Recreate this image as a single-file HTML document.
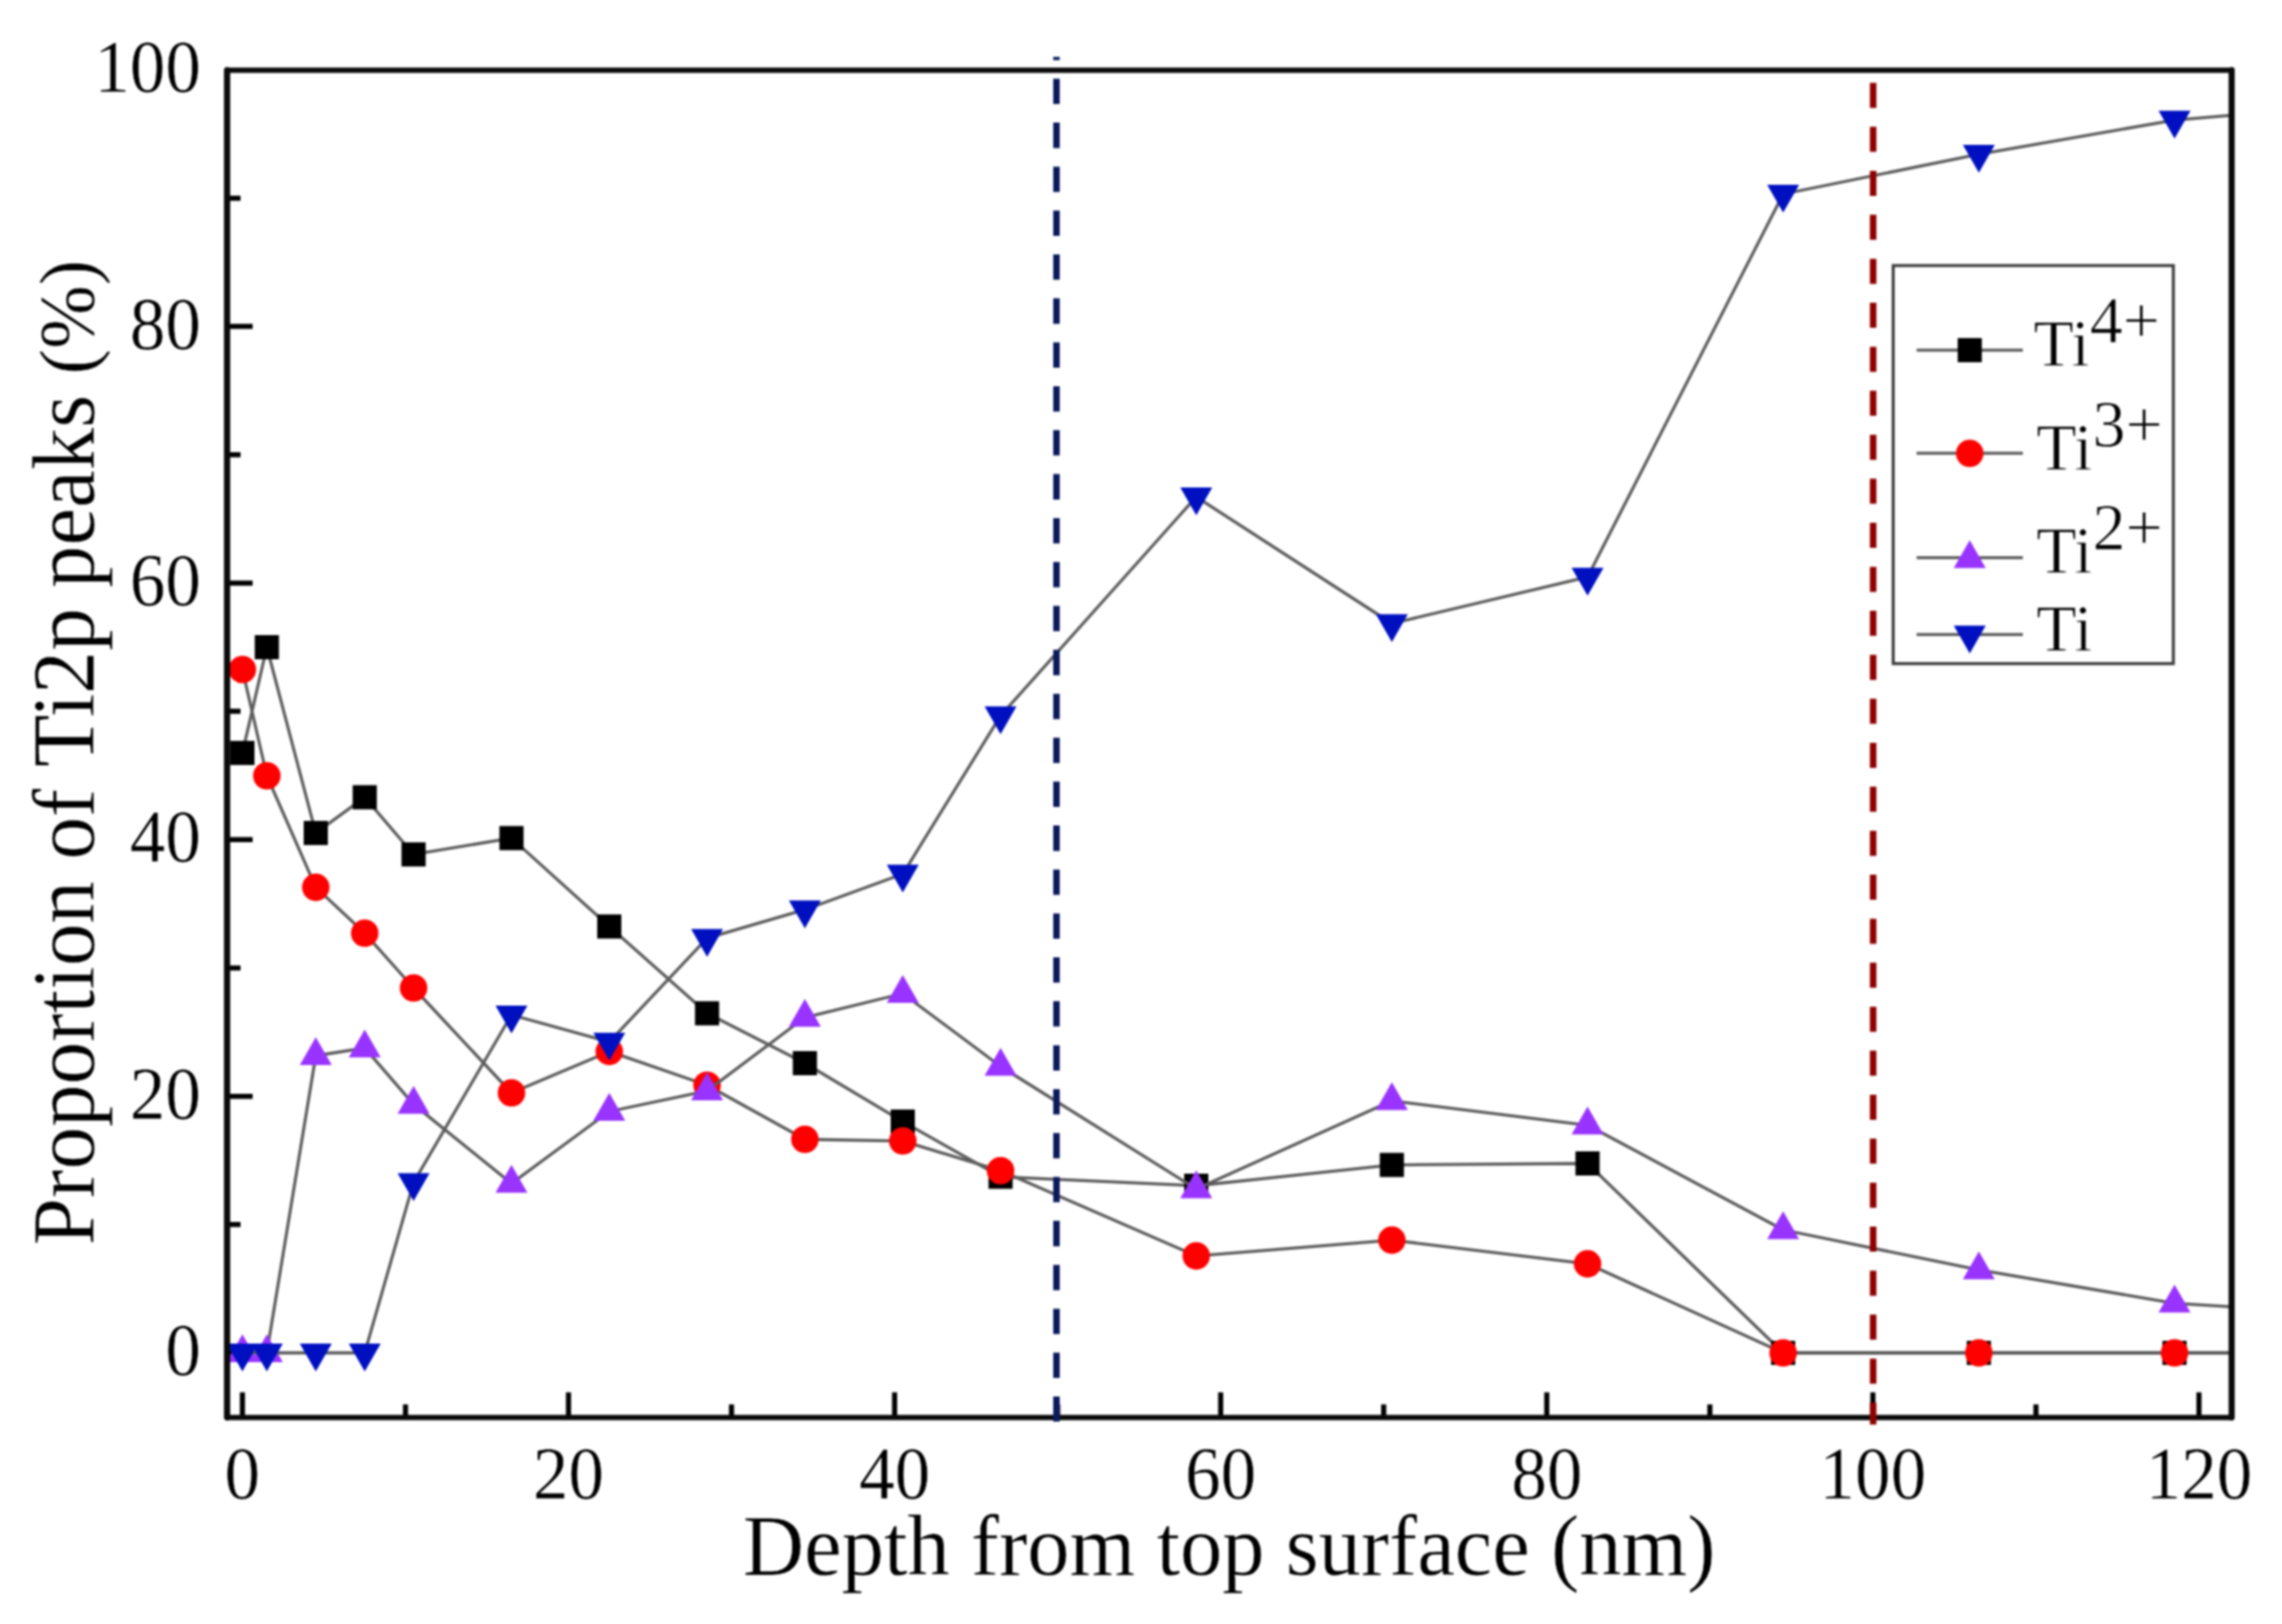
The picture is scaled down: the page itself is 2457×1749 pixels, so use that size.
<!DOCTYPE html>
<html lang="en"><head><meta charset="utf-8"><title>Proportion of Ti2p peaks vs depth</title>
<style>
html,body{margin:0;padding:0;background:#fff;}
body{width:2457px;height:1749px;overflow:hidden;}
svg{display:block;filter:blur(0.9px);}
text{font-family:"Liberation Serif","Times New Roman",serif;fill:#000;stroke:#fff;stroke-width:0.45px;paint-order:fill stroke;}
.tk{font-size:81px;}
.lg{font-size:71px;stroke-width:0.8px;}
</style></head><body>
<svg width="2457" height="1749" viewBox="0 0 2457 1749">
<rect width="2457" height="1749" fill="#fff"/>
<defs><clipPath id="cp"><rect x="244.5" y="75.6" width="2158.3" height="1451.0"/></clipPath></defs>
<path d="M261.0,1526.6 v-27 M436.6,1526.6 v-14 M612.1,1526.6 v-27 M787.6,1526.6 v-14 M963.2,1526.6 v-27 M1138.8,1526.6 v-14 M1314.3,1526.6 v-27 M1489.8,1526.6 v-14 M1665.4,1526.6 v-27 M1841.0,1526.6 v-14 M2016.5,1526.6 v-27 M2192.1,1526.6 v-14 M2367.6,1526.6 v-27 M244.5,1457.0 h27.5 M244.5,1318.8 h14.5 M244.5,1180.7 h27.5 M244.5,1042.5 h14.5 M244.5,904.3 h27.5 M244.5,766.1 h14.5 M244.5,628.0 h27.5 M244.5,489.8 h14.5 M244.5,351.6 h27.5 M244.5,213.5 h14.5" stroke="#000" stroke-width="5.5" fill="none"/>
<g clip-path="url(#cp)">
<polyline points="261.0,810.9 287.3,697.0 340.0,897.1 392.7,858.6 445.3,920.2 550.7,902.6 656.0,997.8 761.3,1091.3 866.6,1145.0 972.0,1207.9 1077.3,1267.3 1288.0,1277.0 1498.6,1254.6 1709.3,1253.0 1919.9,1457.0 2130.6,1457.0 2341.3,1457.0 2551.9,1457.0" fill="none" stroke="#5c5c5c" stroke-width="3.3" stroke-linejoin="round"/>
<rect x="248.0" y="797.9" width="26" height="26" fill="#000"/><rect x="274.3" y="684.0" width="26" height="26" fill="#000"/><rect x="327.0" y="884.1" width="26" height="26" fill="#000"/><rect x="379.7" y="845.6" width="26" height="26" fill="#000"/><rect x="432.3" y="907.2" width="26" height="26" fill="#000"/><rect x="537.7" y="889.6" width="26" height="26" fill="#000"/><rect x="643.0" y="984.8" width="26" height="26" fill="#000"/><rect x="748.3" y="1078.3" width="26" height="26" fill="#000"/><rect x="853.6" y="1132.0" width="26" height="26" fill="#000"/><rect x="959.0" y="1194.9" width="26" height="26" fill="#000"/><rect x="1064.3" y="1254.3" width="26" height="26" fill="#000"/><rect x="1275.0" y="1264.0" width="26" height="26" fill="#000"/><rect x="1485.6" y="1241.6" width="26" height="26" fill="#000"/><rect x="1696.3" y="1240.0" width="26" height="26" fill="#000"/><rect x="1906.9" y="1444.0" width="26" height="26" fill="#000"/><rect x="2117.6" y="1444.0" width="26" height="26" fill="#000"/><rect x="2328.3" y="1444.0" width="26" height="26" fill="#000"/><rect x="2538.9" y="1444.0" width="26" height="26" fill="#000"/>
<polyline points="261.0,721.0 287.3,835.5 340.0,955.6 392.7,1005.0 445.3,1064.0 550.7,1177.0 656.0,1132.4 761.3,1168.7 866.6,1227.0 972.0,1228.8 1077.3,1260.8 1288.0,1352.6 1498.6,1335.6 1709.3,1361.1 1919.9,1457.0 2130.6,1457.0 2341.3,1457.0 2551.9,1457.0" fill="none" stroke="#5c5c5c" stroke-width="3.3" stroke-linejoin="round"/>
<circle cx="261.0" cy="721.0" r="14.8" fill="#ff0000"/><circle cx="287.3" cy="835.5" r="14.8" fill="#ff0000"/><circle cx="340.0" cy="955.6" r="14.8" fill="#ff0000"/><circle cx="392.7" cy="1005.0" r="14.8" fill="#ff0000"/><circle cx="445.3" cy="1064.0" r="14.8" fill="#ff0000"/><circle cx="550.7" cy="1177.0" r="14.8" fill="#ff0000"/><circle cx="656.0" cy="1132.4" r="14.8" fill="#ff0000"/><circle cx="761.3" cy="1168.7" r="14.8" fill="#ff0000"/><circle cx="866.6" cy="1227.0" r="14.8" fill="#ff0000"/><circle cx="972.0" cy="1228.8" r="14.8" fill="#ff0000"/><circle cx="1077.3" cy="1260.8" r="14.8" fill="#ff0000"/><circle cx="1288.0" cy="1352.6" r="14.8" fill="#ff0000"/><circle cx="1498.6" cy="1335.6" r="14.8" fill="#ff0000"/><circle cx="1709.3" cy="1361.1" r="14.8" fill="#ff0000"/><circle cx="1919.9" cy="1457.0" r="14.8" fill="#ff0000"/><circle cx="2130.6" cy="1457.0" r="14.8" fill="#ff0000"/><circle cx="2341.3" cy="1457.0" r="14.8" fill="#ff0000"/><circle cx="2551.9" cy="1457.0" r="14.8" fill="#ff0000"/>
<polyline points="261.0,1457.0 287.3,1457.0 340.0,1137.0 392.7,1128.7 445.3,1189.4 550.7,1274.6 656.0,1197.0 761.3,1174.9 866.6,1095.8 972.0,1070.0 1077.3,1148.5 1288.0,1280.5 1498.6,1185.6 1709.3,1211.8 1919.9,1324.5 2130.6,1367.7 2341.3,1403.6 2551.9,1416.2" fill="none" stroke="#5c5c5c" stroke-width="3.3" stroke-linejoin="round"/>
<polygon points="261.0,1437.0 278.2,1467.0 243.8,1467.0" fill="#9933ff"/><polygon points="287.3,1437.0 304.5,1467.0 270.1,1467.0" fill="#9933ff"/><polygon points="340.0,1117.0 357.2,1147.0 322.8,1147.0" fill="#9933ff"/><polygon points="392.7,1108.7 409.9,1138.7 375.5,1138.7" fill="#9933ff"/><polygon points="445.3,1169.4 462.5,1199.4 428.1,1199.4" fill="#9933ff"/><polygon points="550.7,1254.6 567.9,1284.6 533.5,1284.6" fill="#9933ff"/><polygon points="656.0,1177.0 673.2,1207.0 638.8,1207.0" fill="#9933ff"/><polygon points="761.3,1154.9 778.5,1184.9 744.1,1184.9" fill="#9933ff"/><polygon points="866.6,1075.8 883.8,1105.8 849.4,1105.8" fill="#9933ff"/><polygon points="972.0,1050.0 989.2,1080.0 954.8,1080.0" fill="#9933ff"/><polygon points="1077.3,1128.5 1094.5,1158.5 1060.1,1158.5" fill="#9933ff"/><polygon points="1288.0,1260.5 1305.2,1290.5 1270.8,1290.5" fill="#9933ff"/><polygon points="1498.6,1165.6 1515.8,1195.6 1481.4,1195.6" fill="#9933ff"/><polygon points="1709.3,1191.8 1726.5,1221.8 1692.1,1221.8" fill="#9933ff"/><polygon points="1919.9,1304.5 1937.1,1334.5 1902.7,1334.5" fill="#9933ff"/><polygon points="2130.6,1347.7 2147.8,1377.7 2113.4,1377.7" fill="#9933ff"/><polygon points="2341.3,1383.6 2358.5,1413.6 2324.1,1413.6" fill="#9933ff"/><polygon points="2551.9,1396.2 2569.1,1426.2 2534.7,1426.2" fill="#9933ff"/>
<polyline points="261.0,1457.0 287.3,1457.0 340.0,1457.0 392.7,1457.0 445.3,1273.4 550.7,1093.0 656.0,1122.2 761.3,1010.4 866.6,979.7 972.0,941.3 1077.3,770.8 1288.0,535.1 1498.6,671.5 1709.3,621.4 1919.9,209.0 2130.6,166.1 2341.3,129.3 2551.9,111.7" fill="none" stroke="#5c5c5c" stroke-width="3.3" stroke-linejoin="round"/>
<polygon points="243.8,1447.0 278.2,1447.0 261.0,1477.0" fill="#0010c0"/><polygon points="270.1,1447.0 304.5,1447.0 287.3,1477.0" fill="#0010c0"/><polygon points="322.8,1447.0 357.2,1447.0 340.0,1477.0" fill="#0010c0"/><polygon points="375.5,1447.0 409.9,1447.0 392.7,1477.0" fill="#0010c0"/><polygon points="428.1,1263.4 462.5,1263.4 445.3,1293.4" fill="#0010c0"/><polygon points="533.5,1083.0 567.9,1083.0 550.7,1113.0" fill="#0010c0"/><polygon points="638.8,1112.2 673.2,1112.2 656.0,1142.2" fill="#0010c0"/><polygon points="744.1,1000.4 778.5,1000.4 761.3,1030.4" fill="#0010c0"/><polygon points="849.4,969.7 883.8,969.7 866.6,999.7" fill="#0010c0"/><polygon points="954.8,931.3 989.2,931.3 972.0,961.3" fill="#0010c0"/><polygon points="1060.1,760.8 1094.5,760.8 1077.3,790.8" fill="#0010c0"/><polygon points="1270.8,525.1 1305.2,525.1 1288.0,555.1" fill="#0010c0"/><polygon points="1481.4,661.5 1515.8,661.5 1498.6,691.5" fill="#0010c0"/><polygon points="1692.1,611.4 1726.5,611.4 1709.3,641.4" fill="#0010c0"/><polygon points="1902.7,199.0 1937.1,199.0 1919.9,229.0" fill="#0010c0"/><polygon points="2113.4,156.1 2147.8,156.1 2130.6,186.1" fill="#0010c0"/><polygon points="2324.1,119.3 2358.5,119.3 2341.3,149.3" fill="#0010c0"/><polygon points="2534.7,101.7 2569.1,101.7 2551.9,131.7" fill="#0010c0"/>
</g>
<rect x="244.5" y="75.6" width="2158.3" height="1451.0" fill="none" stroke="#0a0a0a" stroke-width="5.6" stroke-linejoin="round"/>
<path d="M244.5,75.6 V1526.6 M2402.8,75.6 V1526.6" fill="none" stroke="#0a0a0a" stroke-width="6.6" stroke-linecap="round"/>
<line x1="1137.5" y1="61.3" x2="1137.5" y2="1531" stroke="#0a1a5c" stroke-width="7" stroke-dasharray="27.3 20.01" stroke-dashoffset="23.8"/>
<line x1="2016.8" y1="89.2" x2="2016.8" y2="1534.3" stroke="#8e0000" stroke-width="7" stroke-dasharray="27 20.38"/>
<text class="tk" transform="translate(261.0,1614.3) scale(0.945,1)" text-anchor="middle">0</text>
<text class="tk" transform="translate(612.1,1614.3) scale(0.945,1)" text-anchor="middle">20</text>
<text class="tk" transform="translate(963.2,1614.3) scale(0.945,1)" text-anchor="middle">40</text>
<text class="tk" transform="translate(1314.3,1614.3) scale(0.945,1)" text-anchor="middle">60</text>
<text class="tk" transform="translate(1665.4,1614.3) scale(0.945,1)" text-anchor="middle">80</text>
<text class="tk" transform="translate(2016.5,1614.3) scale(0.945,1)" text-anchor="middle">100</text>
<text class="tk" transform="translate(2367.6,1614.3) scale(0.945,1)" text-anchor="middle">120</text>
<text class="tk" transform="translate(216.3,1481.0) scale(0.945,1)" text-anchor="end">0</text>
<text class="tk" transform="translate(216.3,1204.7) scale(0.945,1)" text-anchor="end">20</text>
<text class="tk" transform="translate(216.3,928.3) scale(0.945,1)" text-anchor="end">40</text>
<text class="tk" transform="translate(216.3,652.0) scale(0.945,1)" text-anchor="end">60</text>
<text class="tk" transform="translate(216.3,375.6) scale(0.945,1)" text-anchor="end">80</text>
<text class="tk" transform="translate(216.3,99.3) scale(0.945,1)" text-anchor="end">100</text>
<text id="xl" x="800" y="1695.7" font-size="94" textLength="1047" lengthAdjust="spacingAndGlyphs">Depth from top surface (nm)</text>
<text transform="translate(100.7,0) rotate(-90)" font-size="95" style="white-space:pre"><tspan x="-1341.2" font-size="95" textLength="514.7" lengthAdjust="spacingAndGlyphs">Proportion of </tspan><tspan x="-826.0" font-size="95" textLength="194.3" lengthAdjust="spacingAndGlyphs">Ti2p </tspan><tspan x="-633.2" font-size="95" textLength="230.7" lengthAdjust="spacingAndGlyphs">peaks </tspan><tspan x="-403.2" font-size="84" textLength="123.5" lengthAdjust="spacingAndGlyphs">(%)</tspan></text>
<rect x="2038.4" y="286" width="301.6" height="428.7" fill="#fff" stroke="#3a3a3a" stroke-width="3.2"/>
<line x1="2063.6" y1="377.1" x2="2178" y2="377.1" stroke="#5c5c5c" stroke-width="3.3"/><rect x="2107.8" y="364.1" width="26" height="26" fill="#000"/><text class="lg" x="2189.5" y="393.8">Ti<tspan dy="-25">4+</tspan></text>
<line x1="2063.6" y1="488.2" x2="2178" y2="488.2" stroke="#5c5c5c" stroke-width="3.3"/><circle cx="2120.8" cy="488.2" r="14.8" fill="#ff0000"/><text class="lg" x="2192.5" y="505.6">Ti<tspan dy="-25">3+</tspan></text>
<line x1="2063.6" y1="600.6" x2="2178" y2="600.6" stroke="#5c5c5c" stroke-width="3.3"/><polygon points="2120.8,581.8 2138.0,611.8 2103.6,611.8" fill="#9933ff"/><text class="lg" x="2192.5" y="617.3">Ti<tspan dy="-25">2+</tspan></text>
<line x1="2063.6" y1="683.4" x2="2178" y2="683.4" stroke="#5c5c5c" stroke-width="3.3"/><polygon points="2103.6,673.8 2138.0,673.8 2120.8,703.8" fill="#0010c0"/><text class="lg" x="2192.5" y="700.7">Ti</text>
</svg>
</body></html>
